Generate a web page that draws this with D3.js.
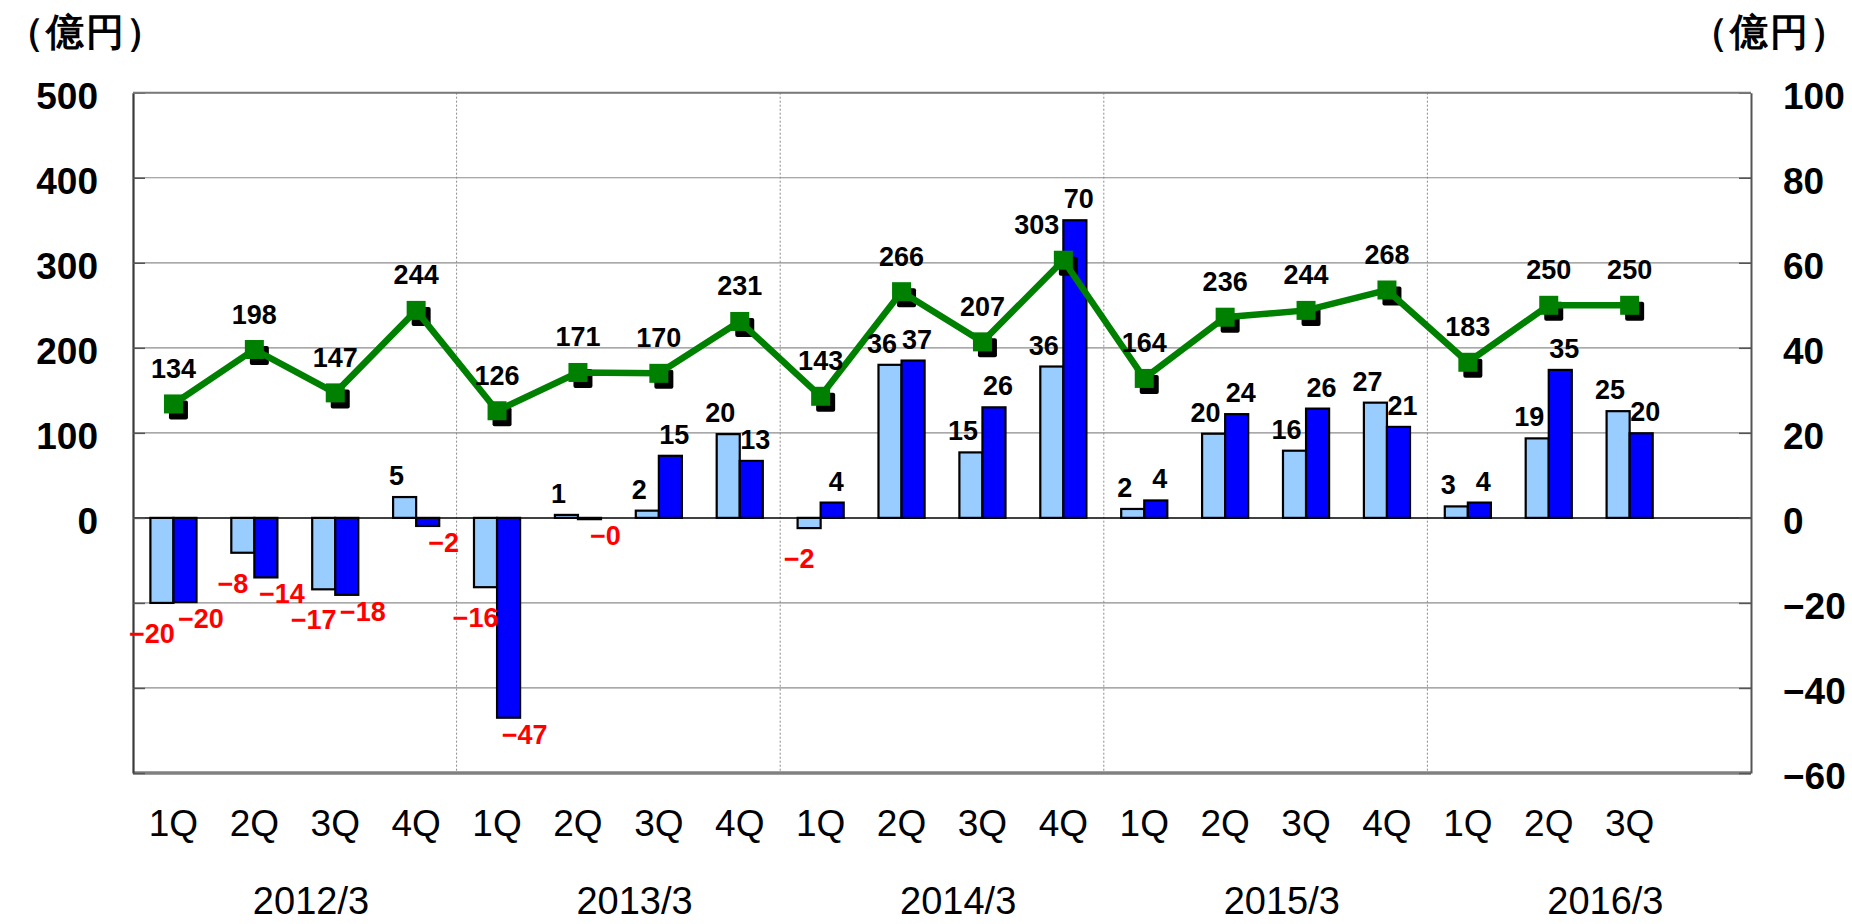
<!DOCTYPE html>
<html><head><meta charset="utf-8">
<script src="https://cdn.jsdelivr.net/npm/d3@7"></script>
<style>
html,body{margin:0;padding:0;background:#fff;}
svg{display:block;}
text{font-family:"Liberation Sans",Arial,sans-serif;}
</style></head><body>
<svg id="chart" width="1852" height="924"></svg>
<script>
// ---- data ----
const quarters = ["1Q","2Q","3Q","4Q","1Q","2Q","3Q","4Q","1Q","2Q","3Q","4Q","1Q","2Q","3Q","4Q","1Q","2Q","3Q"];
const fiscalYears = ["2012/3","2013/3","2014/3","2015/3","2016/3"];
const lineValues = [134,198,147,244,126,171,170,231,143,266,207,303,164,236,244,268,183,250,250];
const lightBars = [-20,-8.2,-16.8,4.9,-16.3,0.7,1.7,19.7,-2.4,36,15.4,35.6,2.1,19.8,15.8,27.1,2.7,18.7,25.1];
const darkBars = [-19.8,-14,-18.1,-1.9,-47,-0.3,14.6,13.4,3.6,37,26,70,4.1,24.4,25.7,21.4,3.6,34.8,19.9];
const leftTicks = [-300,-200,-100,0,100,200,300,400,500];
const rightTicks = [-60,-40,-20,0,20,40,60,80,100];
const unitLabel = "（億円）";
const slotCount = 20;

// ---- layout ----
const X0 = 133, X1 = 1751, YT = 92.7, YB = 773;
const svg = d3.select("#chart");
const x = d3.scaleBand().domain(d3.range(slotCount)).range([X0, X1]).padding(0);
const step = x.step();
const yL = d3.scaleLinear().domain([-300, 500]).range([YB, YT]);
const yR = d3.scaleLinear().domain([-60, 100]).range([YB, YT]);
const cx = i => x(i) + step / 2;
const bw = step * 0.285;
const fmt0 = v => (v < 0 ? "\u2212" : "") + d3.format(".0f")(Math.abs(v));

// plot background
svg.append("rect").attr("x", X0).attr("y", YT).attr("width", X1 - X0).attr("height", YB - YT).attr("fill", "#fff");

// gridlines
svg.append("g").selectAll("line").data(leftTicks.filter(t => t !== 0 && t !== -300)).join("line")
  .attr("x1", X0).attr("x2", X1).attr("y1", d => yL(d)).attr("y2", d => yL(d))
  .attr("stroke", "#8c8c8c").attr("stroke-width", 1.2);

// year separators
svg.append("g").selectAll("line").data([4, 8, 12, 16]).join("line")
  .attr("x1", d => x(d)).attr("x2", d => x(d)).attr("y1", YT).attr("y2", YB)
  .attr("stroke", "#8a8a8a").attr("stroke-width", 1).attr("stroke-dasharray", "2,2");

// bottom border
svg.append("line").attr("x1", X0).attr("x2", X1).attr("y1", YB).attr("y2", YB)
  .attr("stroke", "#808080").attr("stroke-width", 3.5);

// zero line
svg.append("line").attr("x1", X0).attr("x2", X1).attr("y1", yL(0)).attr("y2", yL(0))
  .attr("stroke", "#000").attr("stroke-width", 1.5);

// axes
const axL = d3.axisLeft(yL).tickValues(leftTicks).tickSizeInner(-12).tickSizeOuter(0).tickPadding(35)
  .tickFormat(d => d >= 0 ? d3.format("d")(d) : "");
const gL = svg.append("g").attr("transform", `translate(${X0},0)`).call(axL);
gL.select(".domain").attr("stroke", "#3a3a3a").attr("stroke-width", 2.2);
gL.selectAll(".tick line").attr("stroke", "#555").attr("stroke-width", 1.5);
gL.selectAll(".tick text").attr("font-size", 37).attr("dy", "0.42em").attr("fill", "#000")
  .attr("font-family", '"Liberation Sans",Arial,sans-serif').attr("font-weight", "bold");

const axR = d3.axisRight(yR).tickValues(rightTicks).tickSizeInner(-12).tickSizeOuter(0).tickPadding(32);
const gR = svg.append("g").attr("transform", `translate(${X1},0)`).call(axR);
gR.select(".domain").attr("stroke", "#555").attr("stroke-width", 2);
gR.selectAll(".tick line").attr("stroke", "#555").attr("stroke-width", 1.5);
gR.selectAll(".tick text").attr("font-size", 37).attr("dy", "0.42em").attr("fill", "#000")
  .attr("font-family", '"Liberation Sans",Arial,sans-serif').attr("font-weight", "bold");

// top border
svg.append("line").attr("x1", X0).attr("x2", X1).attr("y1", YT).attr("y2", YT)
  .attr("stroke", "#7a7a7a").attr("stroke-width", 2);

// bars
const bars = svg.append("g");
function barY(v) { return Math.min(yR(v), yR(0)); }
function barH(v) { return Math.abs(yR(v) - yR(0)); }
bars.selectAll("rect.light").data(lightBars).join("rect").attr("class", "light")
  .attr("x", (d, i) => cx(i) - bw).attr("width", bw)
  .attr("y", d => barY(d)).attr("height", d => barH(d))
  .attr("fill", "#99CCFF").attr("stroke", "#000").attr("stroke-width", 2.2);
bars.selectAll("rect.dark").data(darkBars).join("rect").attr("class", "dark")
  .attr("x", (d, i) => cx(i)).attr("width", bw)
  .attr("y", d => barY(d)).attr("height", d => barH(d))
  .attr("fill", "#0000FF").attr("stroke", "#000").attr("stroke-width", 2.2);

// line series
const lineG = svg.append("g");
const ms = 19;
lineG.selectAll("rect.shadow").data(lineValues).join("rect").attr("class", "shadow")
  .attr("x", (d, i) => cx(i) - ms / 2 + 5).attr("y", d => yL(d) - ms / 2 + 6)
  .attr("width", ms).attr("height", ms).attr("rx", 2).attr("fill", "#000");
lineG.append("path").datum(lineValues)
  .attr("d", d3.line().x((d, i) => cx(i)).y(d => yL(d)))
  .attr("fill", "none").attr("stroke", "#008000").attr("stroke-width", 6.5);
lineG.selectAll("rect.mk").data(lineValues).join("rect").attr("class", "mk")
  .attr("x", (d, i) => cx(i) - ms / 2).attr("y", d => yL(d) - ms / 2)
  .attr("width", ms).attr("height", ms).attr("fill", "#008000");

// bar labels
const labG = svg.append("g").attr("font-size", 27).attr("font-weight", "bold").attr("text-anchor", "middle");
function barLabel(vals, isLight) {
  labG.selectAll(null).data(vals).join("text")
    .attr("x", (d, i) => {
      const c = isLight ? cx(i) - bw / 2 : cx(i) + bw / 2;
      if (d >= 0) return c + (isLight ? -8 : 4);
      return c + (isLight ? -10 : 16);
    })
    .attr("y", d => d >= 0 ? yR(d) - 12 : yR(d) + (isLight ? 40 : 26))
    .attr("fill", d => d < 0 ? "#FF0000" : "#000")
    .text(d => fmt0(d));
}
barLabel(lightBars, true);
barLabel(darkBars, false);

// line labels
const lineLab = labG.selectAll(null).data(lineValues).join("text")
  .attr("x", (d, i) => cx(i)).attr("y", d => yL(d) - 26).attr("fill", "#000")
  .text(d => d3.format("d")(d));
// shift a line label left if it collides with the dark bar of its quarter
lineLab.each(function (d, i) {
  const w = this.getComputedTextLength();
  const by = yL(d) - 26;
  const barTop = yR(Math.max(darkBars[i], 0));
  const left = cx(i) - w / 2, right = cx(i) + w / 2;
  if (barTop < by && right > cx(i) - 2 && left < cx(i) + bw) {
    d3.select(this).attr("x", cx(i) - 4 - w / 2);
  }
});

// quarter labels
svg.append("g").selectAll("text").data(quarters).join("text")
  .attr("x", (d, i) => cx(i)).attr("y", 836).attr("text-anchor", "middle")
  .attr("font-size", 37).text(d => d);

// fiscal year labels
svg.append("g").selectAll("text").data(fiscalYears).join("text")
  .attr("x", (d, i) => x(i * 4) + step * 2.2).attr("y", 914).attr("text-anchor", "middle")
  .attr("font-size", 38).text(d => d);

// unit labels
const unitStyle = s => s.attr("font-family", '"Noto Sans CJK JP",sans-serif').attr("font-size", 38)
  .attr("font-weight", "bold").attr("letter-spacing", 2).style("font-feature-settings", '"palt"').attr("fill", "#000");
svg.append("text").attr("x", 6).attr("y", 45).attr("text-anchor", "start").text(unitLabel).call(unitStyle);
svg.append("text").attr("x", 1850).attr("y", 45).attr("text-anchor", "end").text(unitLabel).call(unitStyle);
</script>
</body></html>
